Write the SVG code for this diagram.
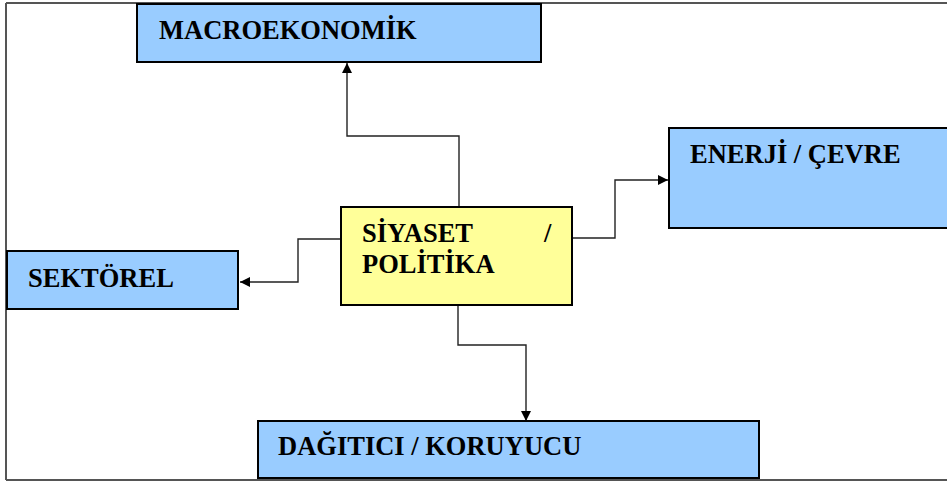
<svg xmlns="http://www.w3.org/2000/svg" width="947" height="482" viewBox="0 0 947 482">
  <defs>
    <marker id="arrow" viewBox="0 0 10 10" refX="10" refY="5" markerWidth="10" markerHeight="10" markerUnits="userSpaceOnUse" orient="auto">
      <path d="M0,0 L10,5 L0,10 z" fill="#000"/>
    </marker>
    <style>
      .frame { stroke: #555; stroke-width: 2; fill: none; }
      .box { stroke: #000; stroke-width: 2; }
      .shadow { fill: #222; }
      .blue { fill: #99CCFF; }
      .yellow { fill: #FFFF99; }
      .label { font-family: "Liberation Serif", "Times New Roman", serif; font-weight: bold; font-size: 26.5px; fill: #000; }
      .conn { stroke: #222; stroke-width: 1.4; fill: none; }
    </style>
  </defs>

  <rect width="947" height="482" fill="#fff"/>

  <!-- page frame -->
  <g id="frame">
    <path class="frame" d="M6,3 H947"/>
    <path class="frame" d="M6,3 V480"/>
    <path class="frame" d="M6,480 H947"/>
  </g>

  <!-- connectors -->
  <g id="connectors">
    <path class="conn" d="M459,207 V136 H347 V63" marker-end="url(#arrow)"/>
    <path class="conn" d="M572,238 H615 V180 H668" marker-end="url(#arrow)"/>
    <path class="conn" d="M341,239 H298 V282 H240" marker-end="url(#arrow)"/>
    <path class="conn" d="M458,305 V345 H526 V421" marker-end="url(#arrow)"/>
  </g>

  <g id="macroekonomik">
    <rect class="shadow" x="138" y="5" width="404" height="58"/>
    <rect class="box blue" x="137" y="4" width="404" height="58"/>
    <text class="label" x="159" y="39">MACROEKONOMİK</text>
  </g>

  <g id="enerji-cevre">
    <rect class="shadow" x="670" y="129" width="290" height="100"/>
    <rect class="box blue" x="669" y="128" width="290" height="100"/>
    <text class="label" x="690" y="163">ENERJİ / ÇEVRE</text>
  </g>

  <g id="siyaset-politika">
    <rect class="shadow" x="342" y="208" width="231" height="98"/>
    <rect class="box yellow" x="341" y="207" width="231" height="98"/>
    <text class="label" x="362" y="242">SİYASET</text>
    <text class="label" x="544" y="242">/</text>
    <text class="label" x="362" y="273">POLİTİKA</text>
  </g>

  <g id="sektorel">
    <rect class="shadow" x="8" y="252" width="231" height="58"/>
    <rect class="box blue" x="7" y="251" width="231" height="58"/>
    <text class="label" x="28" y="287">SEKTÖREL</text>
  </g>

  <g id="dagitici-koruyucu">
    <rect class="shadow" x="259" y="422" width="501" height="57"/>
    <rect class="box blue" x="258" y="421" width="501" height="57"/>
    <text class="label" x="278" y="455">DAĞITICI / KORUYUCU</text>
  </g>
</svg>
